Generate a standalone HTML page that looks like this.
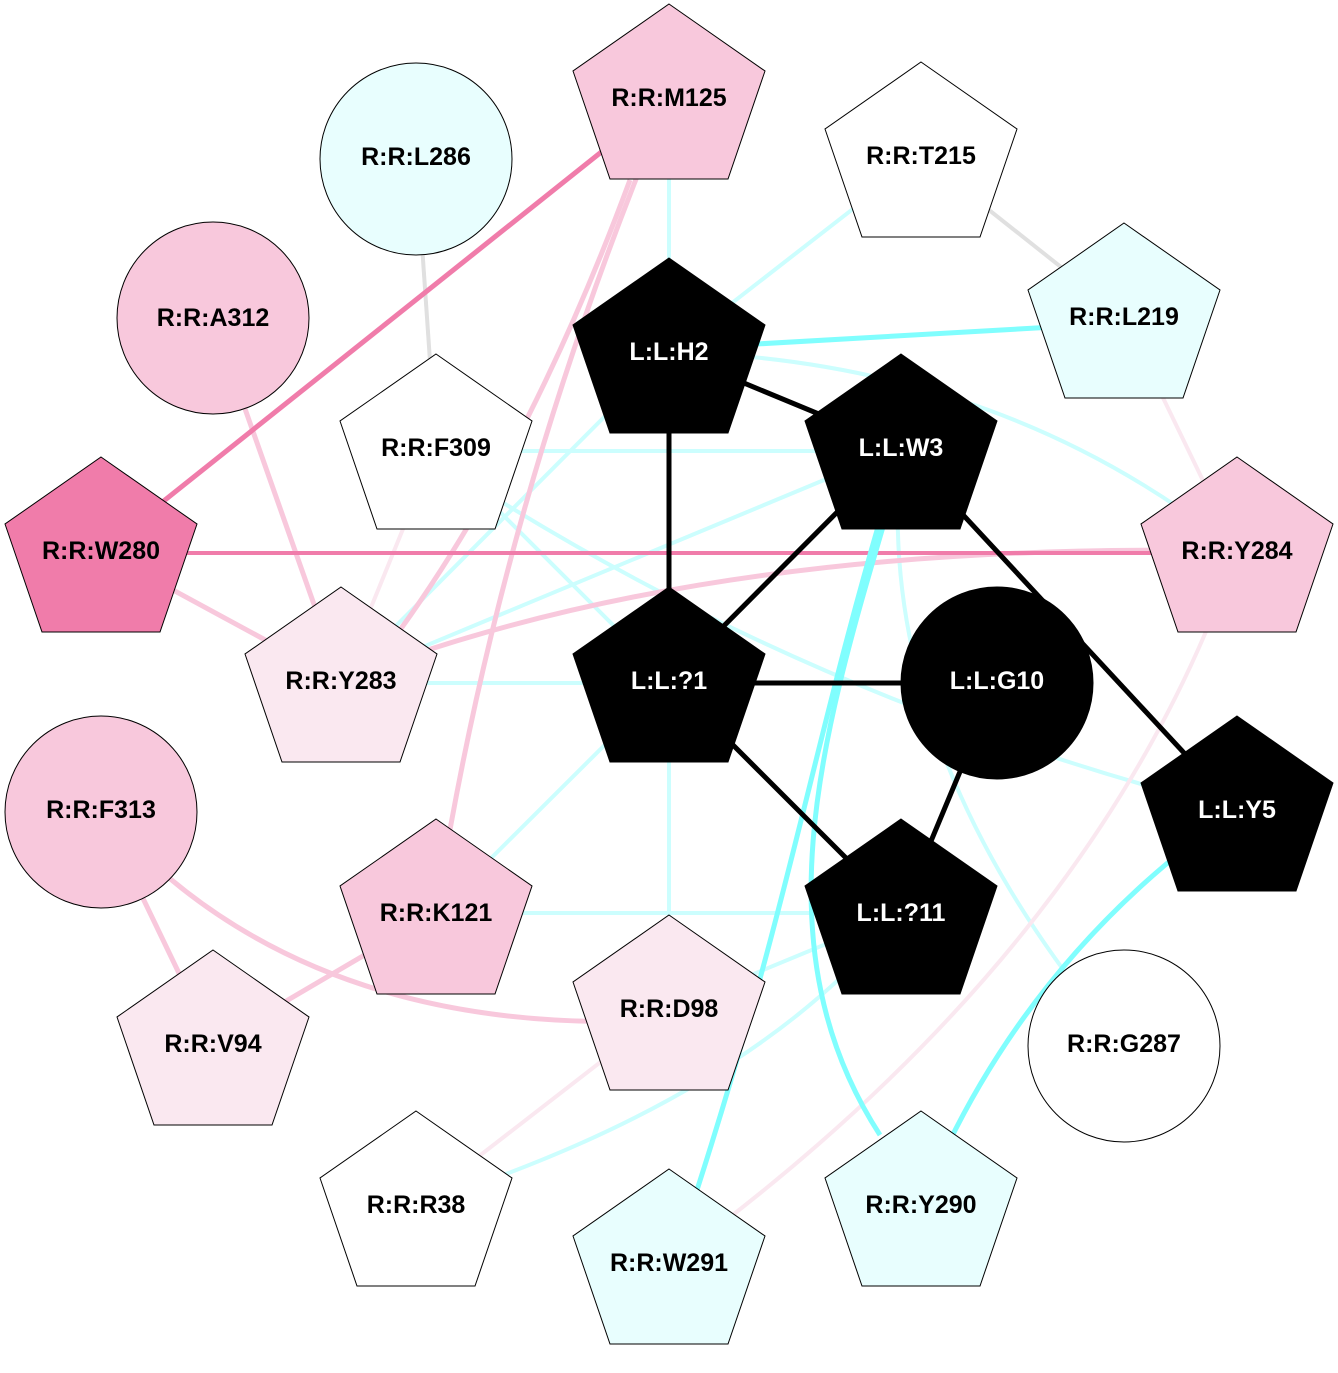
<!DOCTYPE html>
<html><head><meta charset="utf-8"><style>
html,body{margin:0;padding:0;background:#fff}
text{font-family:"Liberation Sans",sans-serif;font-weight:bold;font-size:25px;text-anchor:middle;dominant-baseline:central}
</style></head><body>
<svg width="1338" height="1368" viewBox="0 0 1338 1368" xmlns="http://www.w3.org/2000/svg">
<defs>
<polygon id="p" points="0,-94 96,-27 59,81 -59,81 -96,-27"/>
</defs>
<g fill="none" stroke-linecap="butt">
<g stroke="#ccfefe" stroke-width="4">
<line x1="669" y1="98" x2="669" y2="352"/>
<line x1="921" y1="156" x2="669" y2="352"/>
<path d="M669 352 Q1000 360 1237 551"/>
<line x1="436" y1="451" x2="901" y2="451"/>
<path d="M436 460 Q800 700 1237 810"/>
<line x1="901" y1="448" x2="341" y2="681"/>
<line x1="669" y1="352" x2="341" y2="681"/>
<line x1="341" y1="683" x2="669" y2="683"/>
<line x1="669" y1="681" x2="669" y2="1009"/>
<line x1="669" y1="681" x2="436" y2="913"/>
<line x1="436" y1="913" x2="901" y2="913"/>
<line x1="669" y1="1009" x2="901" y2="913"/>
<path d="M901 448 Q870 750 1124 1046"/>
<path d="M416 1205 Q750 1100 901 913"/>
<line x1="436" y1="448" x2="669" y2="681"/>
</g>
<g stroke="#e0e0e0" stroke-width="4">
<line x1="416" y1="158" x2="436" y2="448"/>
<line x1="921" y1="156" x2="1124" y2="317"/>
</g>
<g stroke="#fae8f0" stroke-width="4">
<line x1="436" y1="448" x2="341" y2="681"/>
<line x1="1124" y1="317" x2="1237" y2="551"/>
<path d="M1237 551 Q1100 950 669 1263"/>
<line x1="669" y1="1009" x2="416" y2="1205"/>
</g>
<g stroke="#f8c8dc" stroke-width="5">
<line x1="101" y1="551" x2="341" y2="681"/>
<line x1="213" y1="318" x2="341" y2="681"/>
<path d="M630 180 Q530 450 400 630"/>
<path d="M669 98 Q500 500 436 913"/>
<path d="M341 681 Q700 540 1237 551"/>
<line x1="101" y1="811" x2="213" y2="1044"/>
<path d="M101 811 Q300 1040 669 1020"/>
<line x1="436" y1="913" x2="213" y2="1044"/>
</g>
<line x1="101" y1="551" x2="669" y2="98" stroke="#f07caa" stroke-width="5"/>
<line x1="101" y1="553" x2="1237" y2="553" stroke="#f07caa" stroke-width="4"/>
<g stroke="#80fefe" stroke-width="5">
<line x1="669" y1="349" x2="1124" y2="323"/>
<path d="M880 520 C810 760 790 900 697 1190"/>
<path d="M885 520 C820 740 760 950 880 1135"/>
<path d="M1237 810 Q1020 960 921 1205"/>
</g>
<g stroke="#000" stroke-width="5">
<line x1="669" y1="352" x2="901" y2="448"/>
<line x1="669" y1="352" x2="669" y2="681"/>
<line x1="901" y1="448" x2="669" y2="681"/>
<line x1="901" y1="448" x2="1237" y2="810"/>
<line x1="669" y1="683" x2="997" y2="683"/>
<line x1="669" y1="681" x2="901" y2="913"/>
<line x1="997" y1="683" x2="901" y2="913"/>
</g>
</g>
<g stroke="#000" stroke-width="1">
<use href="#p" x="669" y="98" fill="#f8c8dc"/>
<circle cx="416" cy="159" r="96" fill="#e8fefe"/>
<use href="#p" x="921" y="156" fill="#fff"/>
<circle cx="213" cy="318" r="96" fill="#f8c8dc"/>
<use href="#p" x="1124" y="317" fill="#e8fefe"/>
<use href="#p" x="669" y="352" fill="#000"/>
<use href="#p" x="436" y="448" fill="#fff"/>
<use href="#p" x="901" y="448" fill="#000"/>
<use href="#p" x="101" y="551" fill="#f07caa"/>
<use href="#p" x="1237" y="551" fill="#f8c8dc"/>
<use href="#p" x="341" y="681" fill="#fae8f0"/>
<use href="#p" x="669" y="681" fill="#000"/>
<circle cx="997" cy="683" r="96" fill="#000"/>
<circle cx="101" cy="812" r="96" fill="#f8c8dc"/>
<use href="#p" x="1237" y="810" fill="#000"/>
<use href="#p" x="436" y="913" fill="#f8c8dc"/>
<use href="#p" x="901" y="913" fill="#000"/>
<use href="#p" x="213" y="1044" fill="#fae8f0"/>
<use href="#p" x="669" y="1009" fill="#fae8f0"/>
<circle cx="1124" cy="1046" r="96" fill="#fff"/>
<use href="#p" x="416" y="1205" fill="#fff"/>
<use href="#p" x="921" y="1205" fill="#e8fefe"/>
<use href="#p" x="669" y="1263" fill="#e8fefe"/>
</g>
<g fill="#000">
<text x="669" y="98">R:R:M125</text>
<text x="416" y="157">R:R:L286</text>
<text x="921" y="156">R:R:T215</text>
<text x="213" y="318">R:R:A312</text>
<text x="1124" y="317">R:R:L219</text>
<text x="436" y="448">R:R:F309</text>
<text x="101" y="551">R:R:W280</text>
<text x="1237" y="551">R:R:Y284</text>
<text x="341" y="681">R:R:Y283</text>
<text x="101" y="810">R:R:F313</text>
<text x="436" y="913">R:R:K121</text>
<text x="213" y="1044">R:R:V94</text>
<text x="669" y="1009">R:R:D98</text>
<text x="1124" y="1044">R:R:G287</text>
<text x="416" y="1205">R:R:R38</text>
<text x="921" y="1205">R:R:Y290</text>
<text x="669" y="1263">R:R:W291</text>
</g>
<g fill="#fff">
<text x="669" y="352">L:L:H2</text>
<text x="901" y="448">L:L:W3</text>
<text x="669" y="681">L:L:?1</text>
<text x="997" y="681">L:L:G10</text>
<text x="1237" y="810">L:L:Y5</text>
<text x="901" y="913">L:L:?11</text>
</g>
</svg>
</body></html>
